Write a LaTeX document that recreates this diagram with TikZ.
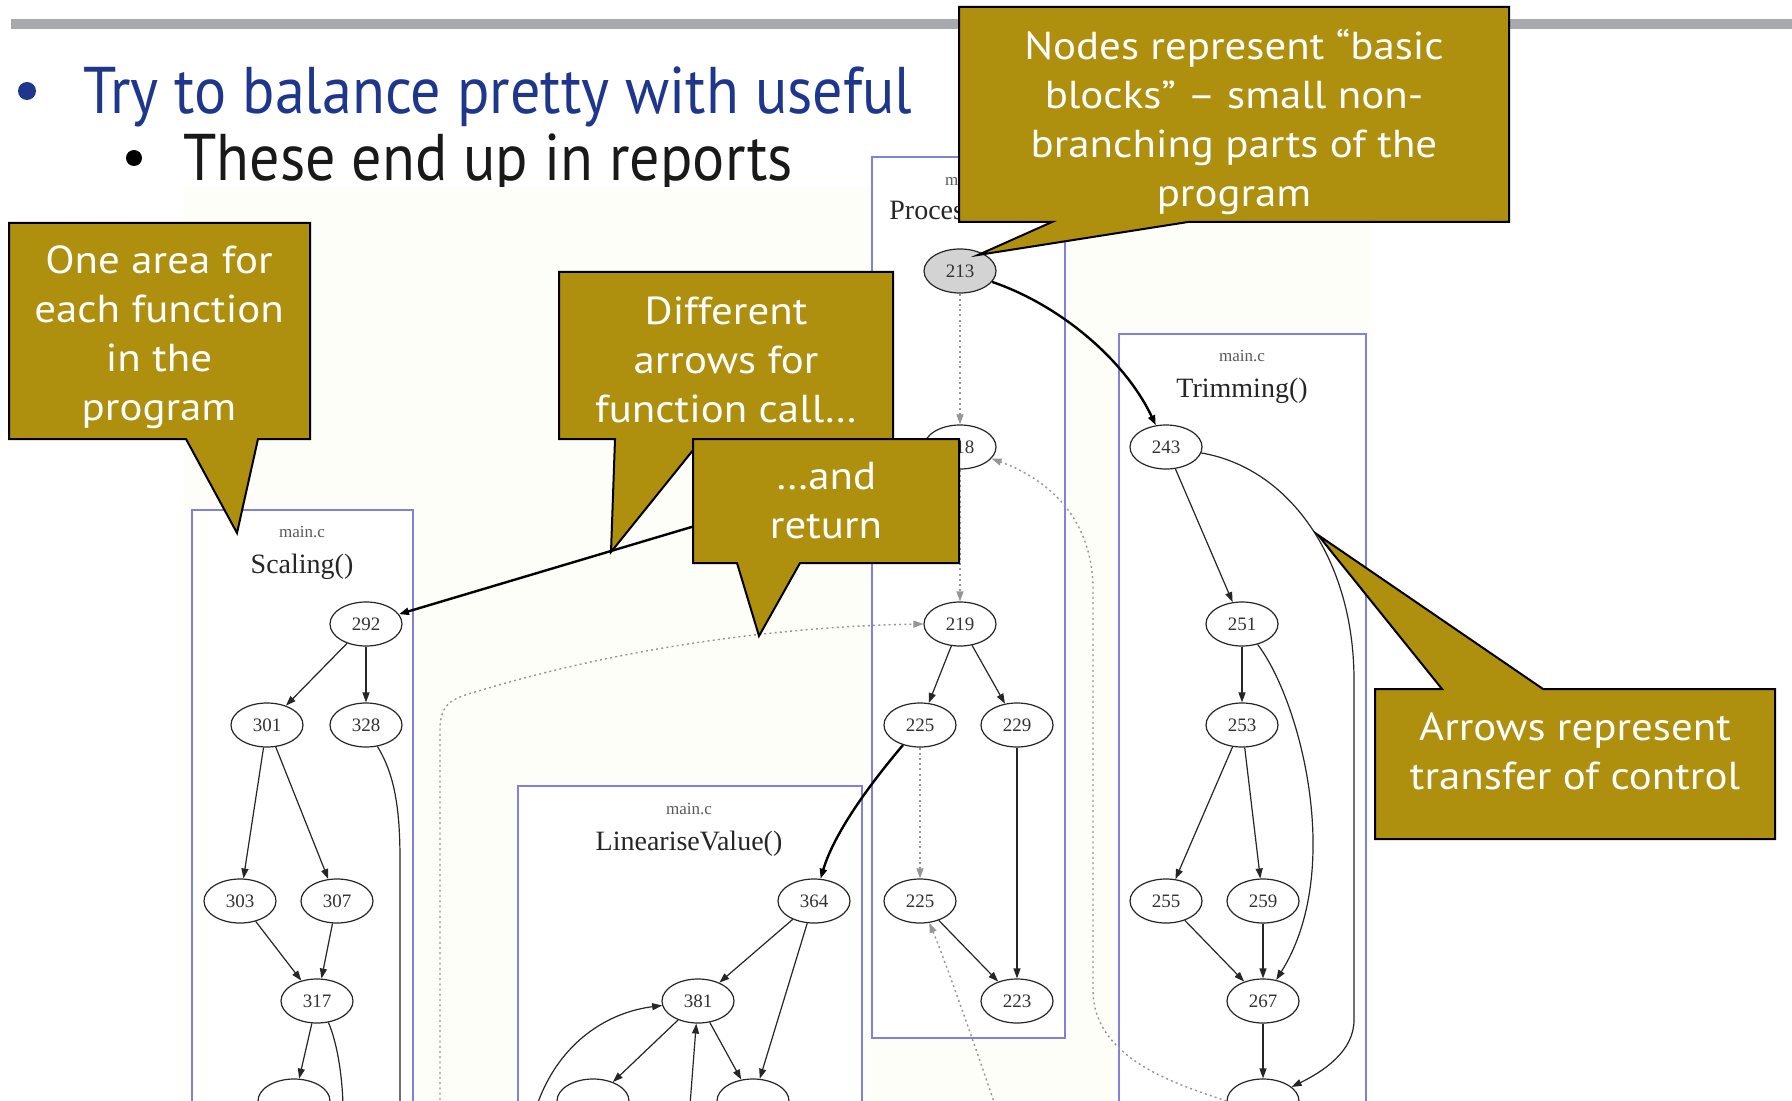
\documentclass[tikz,border=0pt]{standalone}
\usepackage{fontspec}
\setmainfont{Liberation Serif}
\newfontfamily\titlefont[FakeStretch=0.91]{PT Sans}
\newfontfamily\notefont[FakeStretch=1.1]{PT Sans}
\usetikzlibrary{shapes.geometric,arrows.meta}

\definecolor{titleblue}{RGB}{30,55,140}
\definecolor{rulegray}{RGB}{168,169,172}
\definecolor{clusterblue}{RGB}{128,128,225}
\definecolor{calloutgold}{RGB}{174,143,14}
\definecolor{blockgray}{RGB}{211,211,211}
\definecolor{plotcream}{RGB}{254,254,249}
\definecolor{returngray}{RGB}{150,150,150}

\begin{document}
\begin{tikzpicture}[x=0.5pt,y=-0.5pt,
  block/.style={ellipse, draw=black!85, line width=0.6pt, minimum width=36pt,
    minimum height=22pt, inner sep=0pt, font=\fontsize{9.5}{10}\selectfont, text=black!80},
  entryblock/.style={block, fill=blockgray},
  cluster/.style={draw=clusterblue, line width=1pt, fill=white},
  filelabel/.style={font=\fontsize{8.5}{9}\selectfont, text=black!65},
  funclabel/.style={font=\fontsize{14}{15}\selectfont, text=black!85},
  flow/.style={-{Triangle[length=5pt,width=3.5pt]}, line width=0.6pt, draw=black!85},
  callflow/.style={flow, line width=1.2pt, draw=black},
  retflow/.style={-{Triangle[length=5pt,width=3.5pt]}, draw=returngray,
    line width=0.7pt, dash pattern=on 1pt off 1.6pt},
  callout/.style={fill=calloutgold, draw=black, line width=1pt, line join=miter},
  callouttext/.style={text=white, align=center,
    font=\notefont\fontsize{19.5}{24.5}\selectfont},
]
\useasboundingbox (0,0) rectangle (1792,1101);
\clip (0,0) rectangle (1792,1101);

% slide header
\fill[rulegray] (11,19) rectangle (1792,29);
\fill[titleblue] (27,91) circle (9);
\node[anchor=base west, inner sep=0pt, text=titleblue,
  font=\titlefont\fontsize{33}{40}\selectfont] (title) at (83,114)
  {Try to balance pretty with useful};
\fill[black] (134,158) circle (8);
\node[anchor=base west, inner sep=0pt, text=black!90,
  font=\titlefont\fontsize{33}{40}\selectfont] (subtitle) at (183,181)
  {These end up in reports};

% graph background
\fill[plotcream] (184,187) rectangle (1372,1101);

% function areas
\draw[cluster] (872,157) rectangle (1065,1038);
\draw[cluster] (192,510) rectangle (413,1130);
\draw[cluster] (518,786) rectangle (862,1130);
\draw[cluster] (1119,334) rectangle (1366,1130);

\node[filelabel] (fileP) at (968,180) {main.c};
\node[funclabel, anchor=base west, inner sep=0pt] (funcP) at (889,220) {Process};
\node[filelabel] (fileS) at (302,532) {main.c};
\node[funclabel] (funcS) at (302,567) {Scaling()};
\node[filelabel] (fileL) at (689,809) {main.c};
\node[funclabel] (funcL) at (689,844) {LineariseValue()};
\node[filelabel] (fileT) at (1242,356) {main.c};
\node[funclabel] (funcT) at (1242,391) {Trimming()};

% basic blocks
\node[entryblock] (n213) at (960,271) {213};
\node[block] (n218) at (960,447) {218};
\node[block] (n219) at (960,624) {219};
\node[block] (n225a) at (920,725) {225};
\node[block] (n229) at (1017,725) {229};
\node[block] (n225b) at (920,901) {225};
\node[block] (n223) at (1017,1001) {223};

\node[block] (n243) at (1166,447) {243};
\node[block] (n251) at (1242,624) {251};
\node[block] (n253) at (1242,725) {253};
\node[block] (n255) at (1166,901) {255};
\node[block] (n259) at (1263,901) {259};
\node[block] (n267) at (1263,1001) {267};
\node[block] (tbot) at (1263,1101) {};

\node[block] (n292) at (366,624) {292};
\node[block] (n301) at (267,725) {301};
\node[block] (n328) at (366,725) {328};
\node[block] (n303) at (240,901) {303};
\node[block] (n307) at (337,901) {307};
\node[block] (n317) at (317,1001) {317};
\node[block] (sbot) at (294,1101) {};

\node[block] (n364) at (814,901) {364};
\node[block] (n381) at (698,1001) {381};
\node[block] (lbotL) at (593,1101) {};
\node[block] (lbotR) at (753,1101) {};

% loose ends leaving the visible area
\coordinate (sout1) at (343,1105);
\coordinate (sout2) at (400,1105);
\coordinate (lin1) at (690,1105);
\coordinate (lin2) at (537,1105);
\coordinate (rin1) at (440,1105);
\coordinate (rin2) at (995,1105);

% control flow inside functions
\draw[flow] (n292) -- (n301);
\draw[flow] (n292) -- (n328);
\draw[flow] (n301) -- (n303);
\draw[flow] (n301) -- (n307);
\draw[flow] (n303) -- (n317);
\draw[flow] (n307) -- (n317);
\draw[flow] (n317) -- (sbot);
\draw[draw=black!85, line width=0.6pt] (n317.-62) .. controls (336,1040) and (342,1070) .. (sout1);
\draw[draw=black!85, line width=0.6pt] (n328.-62) .. controls (395,775) and (400,810) .. (400,860) -- (sout2);

\draw[flow] (n219) -- (n225a);
\draw[flow] (n219) -- (n229);
\draw[flow] (n229) -- (n223);
\draw[flow] (n225b) -- (n223);

\draw[flow] (n243) -- (n251);
\draw[flow] (n243) .. controls (1290,468) and (1354,560) .. (1354,680) -- (1354,1020)
  .. controls (1354,1052) and (1322,1072) .. (tbot);
\draw[flow] (n251) -- (n253);
\draw[flow] (n251) .. controls (1300,700) and (1345,870) .. (n267);
\draw[flow] (n253) -- (n255);
\draw[flow] (n253) -- (n259);
\draw[flow] (n255) -- (n267);
\draw[flow] (n259) -- (n267);
\draw[flow] (n267) -- (tbot);

\draw[flow] (n364) -- (n381);
\draw[flow] (n364) -- (lbotR);
\draw[flow] (n381) -- (lbotL);
\draw[flow] (n381) -- (lbotR);
\draw[flow] (lin1) -- (n381);
\draw[flow] (lin2) .. controls (560,1040) and (610,1012) .. (n381);

% fall-through between call sites
\draw[retflow] (n213) -- (n218);
\draw[retflow] (n218) -- (n219);
\draw[retflow] (n225a) -- (n225b);

% calls
\draw[callflow] (n213) .. controls (1060,305) and (1125,360) .. (n243);
\draw[callflow] (n218) -- (n292);
\draw[callflow] (n225a) .. controls (875,778) and (835,830) .. (n364);

% returns
\draw[retflow] (rin1) -- (440,730) .. controls (440,700) and (455,698) .. (485,689)
  .. controls (640,643) and (800,626) .. (n219.west);
\draw[retflow] (tbot.west) .. controls (1180,1085) and (1093,1060) .. (1093,990)
  -- (1093,590) .. controls (1093,520) and (1050,480) .. (n218);
\draw[retflow] (rin2) .. controls (980,1060) and (945,960) .. (n225b);

% callouts
\draw[callout] (959,7) -- (1509,7) -- (1509,222) -- (1188,222) -- (978,255)
  -- (1052,222) -- (959,222) -- cycle;
\node[callouttext] (noteBlocks) at (1234,121.5)
  {Nodes represent “basic\\blocks” – small non-\\branching parts of the\\program};

\draw[callout] (9,223) -- (310,223) -- (310,439) -- (258,439) -- (237,533)
  -- (186,439) -- (9,439) -- cycle;
\node[callouttext] (noteArea) at (159,337.5)
  {One area for\\each function\\in the\\program};

\draw[callout] (559,272) -- (893,272) -- (893,439) -- (702,439) -- (611,552)
  -- (615,439) -- (559,439) -- cycle;
\node[callouttext] (noteCall) at (726,360)
  {Different\\arrows for\\function call…};

\draw[callout] (693,439) -- (959,439) -- (959,563) -- (800,563) -- (759,636)
  -- (737,563) -- (693,563) -- cycle;
\node[callouttext] (noteReturn) at (826,501) {…and\\return};

\draw[callout] (1375,689) -- (1442,689) -- (1318,535) -- (1543,689) -- (1775,689)
  -- (1775,839) -- (1375,839) -- cycle;
\node[callouttext] (noteArrows) at (1575,751)
  {Arrows represent\\transfer of control};
\end{tikzpicture}
\end{document}
